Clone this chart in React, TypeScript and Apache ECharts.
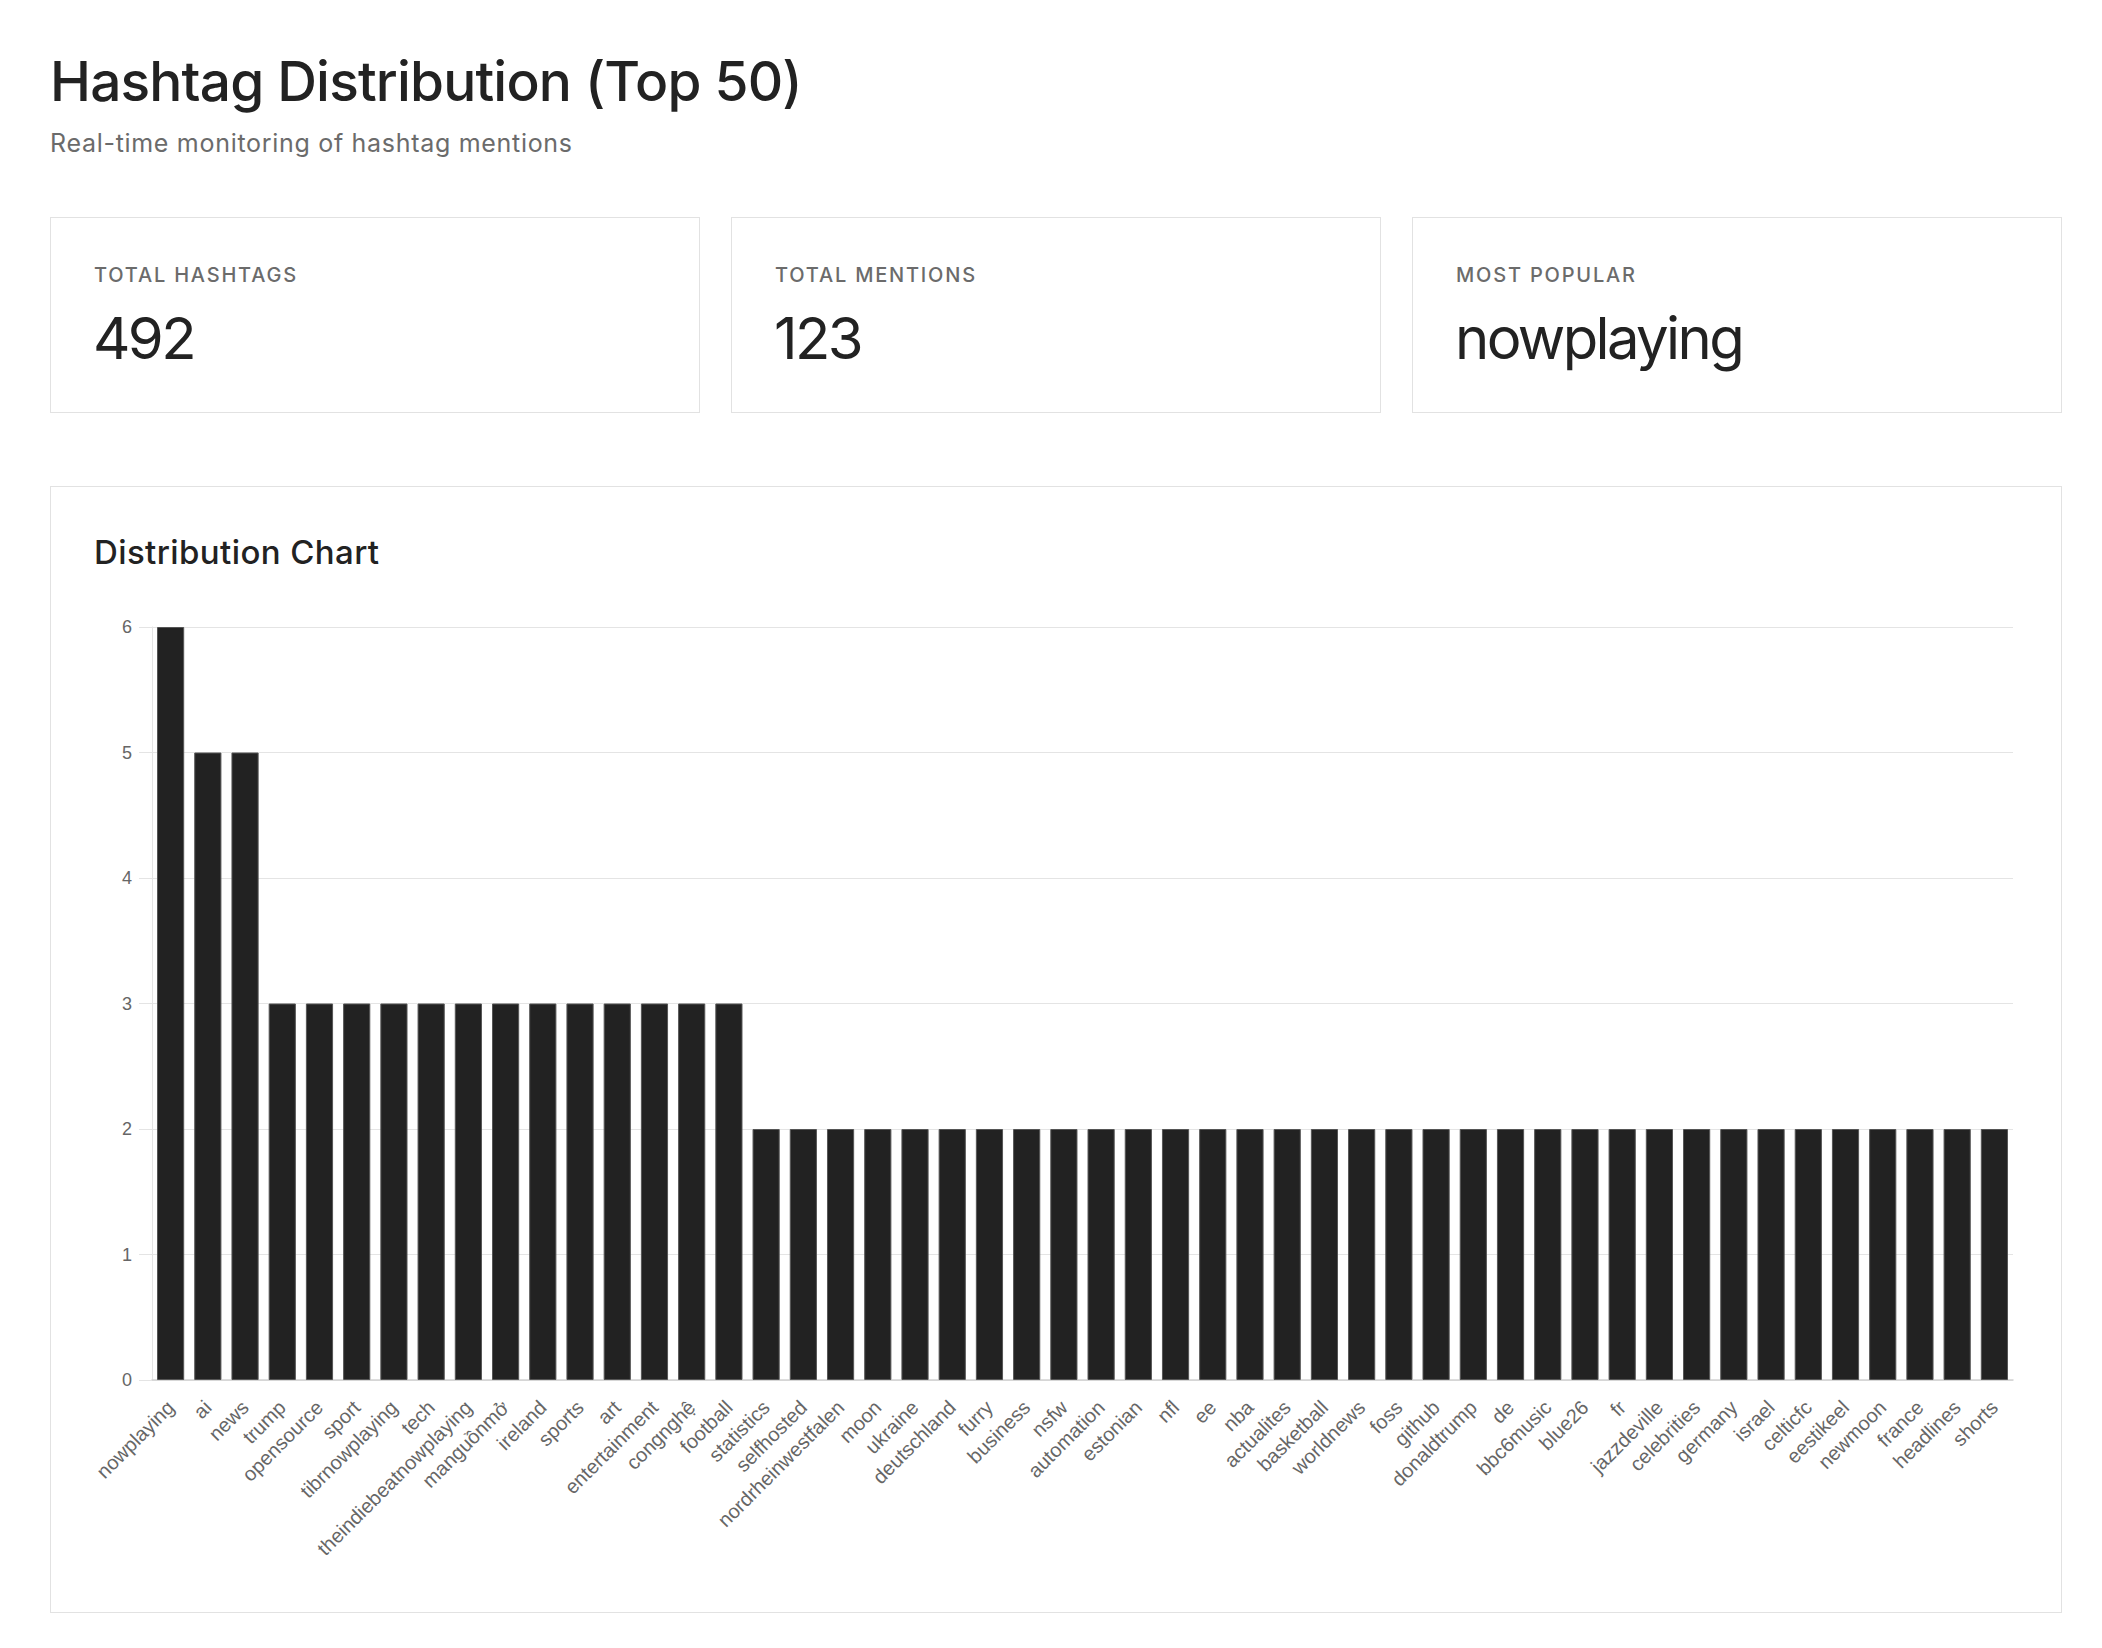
import React, { useEffect, useRef } from "react";
import * as echarts from "echarts";

const hashtags = [
  "nowplaying", "ai", "news", "trump", "opensource", "sport", "tibrnowplaying", "tech",
  "theindiebeatnowplaying", "manguồnmở", "ireland", "sports", "art", "entertainment", "congnghệ", "football",
  "statistics", "selfhosted", "nordrheinwestfalen", "moon", "ukraine", "deutschland", "furry", "business",
  "nsfw", "automation", "estonian", "nfl", "ee", "nba", "actualites", "basketball",
  "worldnews", "foss", "github", "donaldtrump", "de", "bbc6music", "blue26", "fr",
  "jazzdeville", "celebrities", "germany", "israel", "celticfc", "eestikeel", "newmoon", "france",
  "headlines", "shorts",
];
const mentions = [
  6, 5, 5, 3, 3, 3, 3, 3,
  3, 3, 3, 3, 3, 3, 3, 3,
  2, 2, 2, 2, 2, 2, 2, 2,
  2, 2, 2, 2, 2, 2, 2, 2,
  2, 2, 2, 2, 2, 2, 2, 2,
  2, 2, 2, 2, 2, 2, 2, 2,
  2, 2,
];
const yTicks = [0, 1, 2, 3, 4, 5, 6];
const totalHashtags = 492;
const totalMentions = mentions.reduce((a, b) => a + b, 0);
const mostPopular = hashtags[0];

const UI = "Inter, 'Liberation Sans', sans-serif";
const CH = "'Liberation Sans', Arial, sans-serif";

function Chart() {
  const ref = useRef<HTMLDivElement>(null);
  useEffect(() => {
    if (!ref.current) return;
    const chart = echarts.init(ref.current, null, { renderer: "svg" });
    chart.setOption({
      animation: false,
      grid: { left: 101, right: 50, top: 140, bottom: 234, containLabel: false },
      xAxis: {
        type: "category",
        data: hashtags,
        axisTick: { show: false },
        axisLine: { show: true, lineStyle: { color: "#d2d2d2", width: 1.5 } },
        axisLabel: {
          interval: 0,
          rotate: 45,
          fontSize: 20,
          color: "#666",
          fontFamily: CH,
          margin: 24,
        },
        splitLine: { show: false },
      },
      yAxis: {
        type: "value",
        min: yTicks[0],
        max: yTicks[yTicks.length - 1],
        interval: 1,
        axisLine: { show: true, lineStyle: { color: "#e4e4e4", width: 1 } },
        axisTick: { show: true, length: 13, lineStyle: { color: "#e4e4e4" } },
        splitLine: { show: true, lineStyle: { color: "#e4e4e4", width: 1 } },
        axisLabel: { fontSize: 18, color: "#666", fontFamily: CH, margin: 20 },
      },
      series: [
        {
          type: "bar",
          data: mentions,
          barCategoryGap: "27%",
          itemStyle: { color: "#222222", borderColor: "#555555", borderWidth: 1 },
        },
      ],
    });
    return () => chart.dispose();
  }, []);
  return <div ref={ref} style={{ position: "absolute", left: 0, top: 0, width: 2012, height: 1127 }} />;
}

function StatCard({ left, label, value }: { left: number; label: string; value: string }) {
  return (
    <div
      style={{
        position: "absolute",
        left,
        top: 217,
        width: 650,
        height: 196,
        boxSizing: "border-box",
        border: "1.5px solid #e2e2e2",
        background: "#fff",
      }}
    >
      <div
        style={{
          position: "absolute",
          left: 43,
          top: 46.5,
          fontFamily: UI,
          fontSize: 20,
          lineHeight: "20px",
          letterSpacing: "0.09em",
          color: "#6b6b6b",
          fontWeight: 500,
          whiteSpace: "nowrap",
        }}
      >
        {label}
      </div>
      <div
        style={{
          position: "absolute",
          left: 42,
          top: 90.5,
          fontFamily: UI,
          fontSize: 58,
          lineHeight: "58px",
          color: "#222",
          fontWeight: 400,
          letterSpacing: "-0.045em",
          whiteSpace: "nowrap",
        }}
      >
        {value}
      </div>
    </div>
  );
}

export default function App() {
  return (
    <div style={{ position: "absolute", left: 0, top: 0, width: 2102, height: 1648, background: "#fff" }}>
      <div
        style={{
          position: "absolute",
          left: 50,
          top: 54,
          fontFamily: UI,
          fontSize: 55,
          lineHeight: "55px",
          fontWeight: 500,
          color: "#222",
          letterSpacing: "-0.015em",
          whiteSpace: "nowrap",
        }}
      >
        Hashtag Distribution (Top 50)
      </div>
      <div
        style={{
          position: "absolute",
          left: 50,
          top: 130.5,
          fontFamily: UI,
          fontSize: 25,
          lineHeight: "25px",
          color: "#6b6b6b",
          letterSpacing: "0.028em",
          whiteSpace: "nowrap",
        }}
      >
        Real-time monitoring of hashtag mentions
      </div>
      <StatCard left={50} label="TOTAL HASHTAGS" value={String(totalHashtags)} />
      <StatCard left={731} label="TOTAL MENTIONS" value={String(totalMentions)} />
      <StatCard left={1412} label="MOST POPULAR" value={mostPopular} />
      <div
        style={{
          position: "absolute",
          left: 50,
          top: 486,
          width: 2012,
          height: 1127,
          boxSizing: "border-box",
          border: "1.5px solid #e2e2e2",
          background: "#fff",
        }}
      >
        <Chart />
        <div
          style={{
            position: "absolute",
            left: 43,
            top: 48.5,
            fontFamily: UI,
            fontSize: 33,
            lineHeight: "33px",
            fontWeight: 500,
            color: "#222",
            letterSpacing: "0.012em",
            whiteSpace: "nowrap",
          }}
        >
          Distribution Chart
        </div>
      </div>
    </div>
  );
}
